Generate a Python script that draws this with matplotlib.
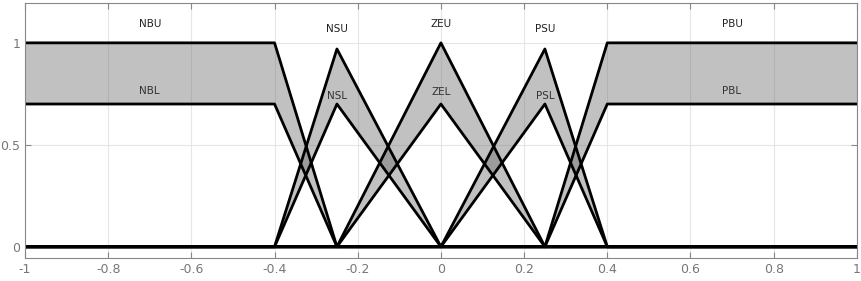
import matplotlib
matplotlib.use('Agg')
import matplotlib.pyplot as plt
import numpy as np

# breakpoints of each membership function (upper / lower)
names = ["NB", "NS", "ZE", "PS", "PB"]
mf_x = [
    [-1.0, -0.4, -0.25],
    [-0.4, -0.25, 0.0],
    [-0.25, 0.0, 0.25],
    [0.0, 0.25, 0.4],
    [0.25, 0.4, 1.0],
]
upper_y = [
    [1.0, 1.0, 0.0],
    [0.0, 0.97, 0.0],
    [0.0, 1.0, 0.0],
    [0.0, 0.97, 0.0],
    [0.0, 1.0, 1.0],
]
lower_y = [
    [0.7, 0.7, 0.0],
    [0.0, 0.7, 0.0],
    [0.0, 0.7, 0.0],
    [0.0, 0.7, 0.0],
    [0.0, 0.7, 0.7],
]
label_x = [-0.7, -0.25, 0.0, 0.25, 0.7]
upper_label_y = [1.09, 1.07, 1.09, 1.07, 1.09]
lower_label_y = [0.765, 0.74, 0.76, 0.74, 0.765]

fig = plt.figure(figsize=(8.62, 2.81), dpi=100)
ax = fig.add_axes([0.029, 0.082, 0.965, 0.907])

xs = np.linspace(-1, 1, 2001)
for name, px, uy, ly, lx, uly, lly in zip(names, mf_x, upper_y, lower_y,
                                           label_x, upper_label_y, lower_label_y):
    u = np.interp(xs, px, uy, left=0, right=0)
    l = np.interp(xs, px, ly, left=0, right=0)
    if px[0] == -1.0:
        u = np.interp(xs, px, uy)
        l = np.interp(xs, px, ly)
    if px[-1] == 1.0:
        u = np.interp(xs, px, uy, left=0)
        l = np.interp(xs, px, ly, left=0)
    ax.fill_between(xs, l, u, color=(0.4, 0.4, 0.4), alpha=0.4, lw=0)
    ax.plot(xs, u, color='black', lw=2)
    ax.plot(xs, l, color='black', lw=2)
    ax.text(lx, uly, name + "U", ha='center', va='center', fontsize=7.5, color='#222222')
    ax.text(lx, lly, name + "L", ha='center', va='center', fontsize=7.5, color='#333333')

ax.set_xlim(-1, 1)
ax.set_ylim(-0.055, 1.195)
ax.set_xticks(np.arange(-1, 1.01, 0.2))
ax.set_xticklabels(["-1", "-0.8", "-0.6", "-0.4", "-0.2", "0", "0.2", "0.4", "0.6", "0.8", "1"])
ax.set_yticks([0, 0.5, 1])
ax.set_yticklabels(["0", "0.5", "1"])
ax.grid(True, color='#e6e6e6', lw=0.8)
ax.set_axisbelow(True)
ax.tick_params(direction='in', length=4, colors='#888888', labelcolor='#777777',
               labelsize=9, right=True, top=True)
for s in ax.spines.values():
    s.set_color('#888888')
    s.set_linewidth(0.8)

fig.savefig("out.png", dpi=100)
